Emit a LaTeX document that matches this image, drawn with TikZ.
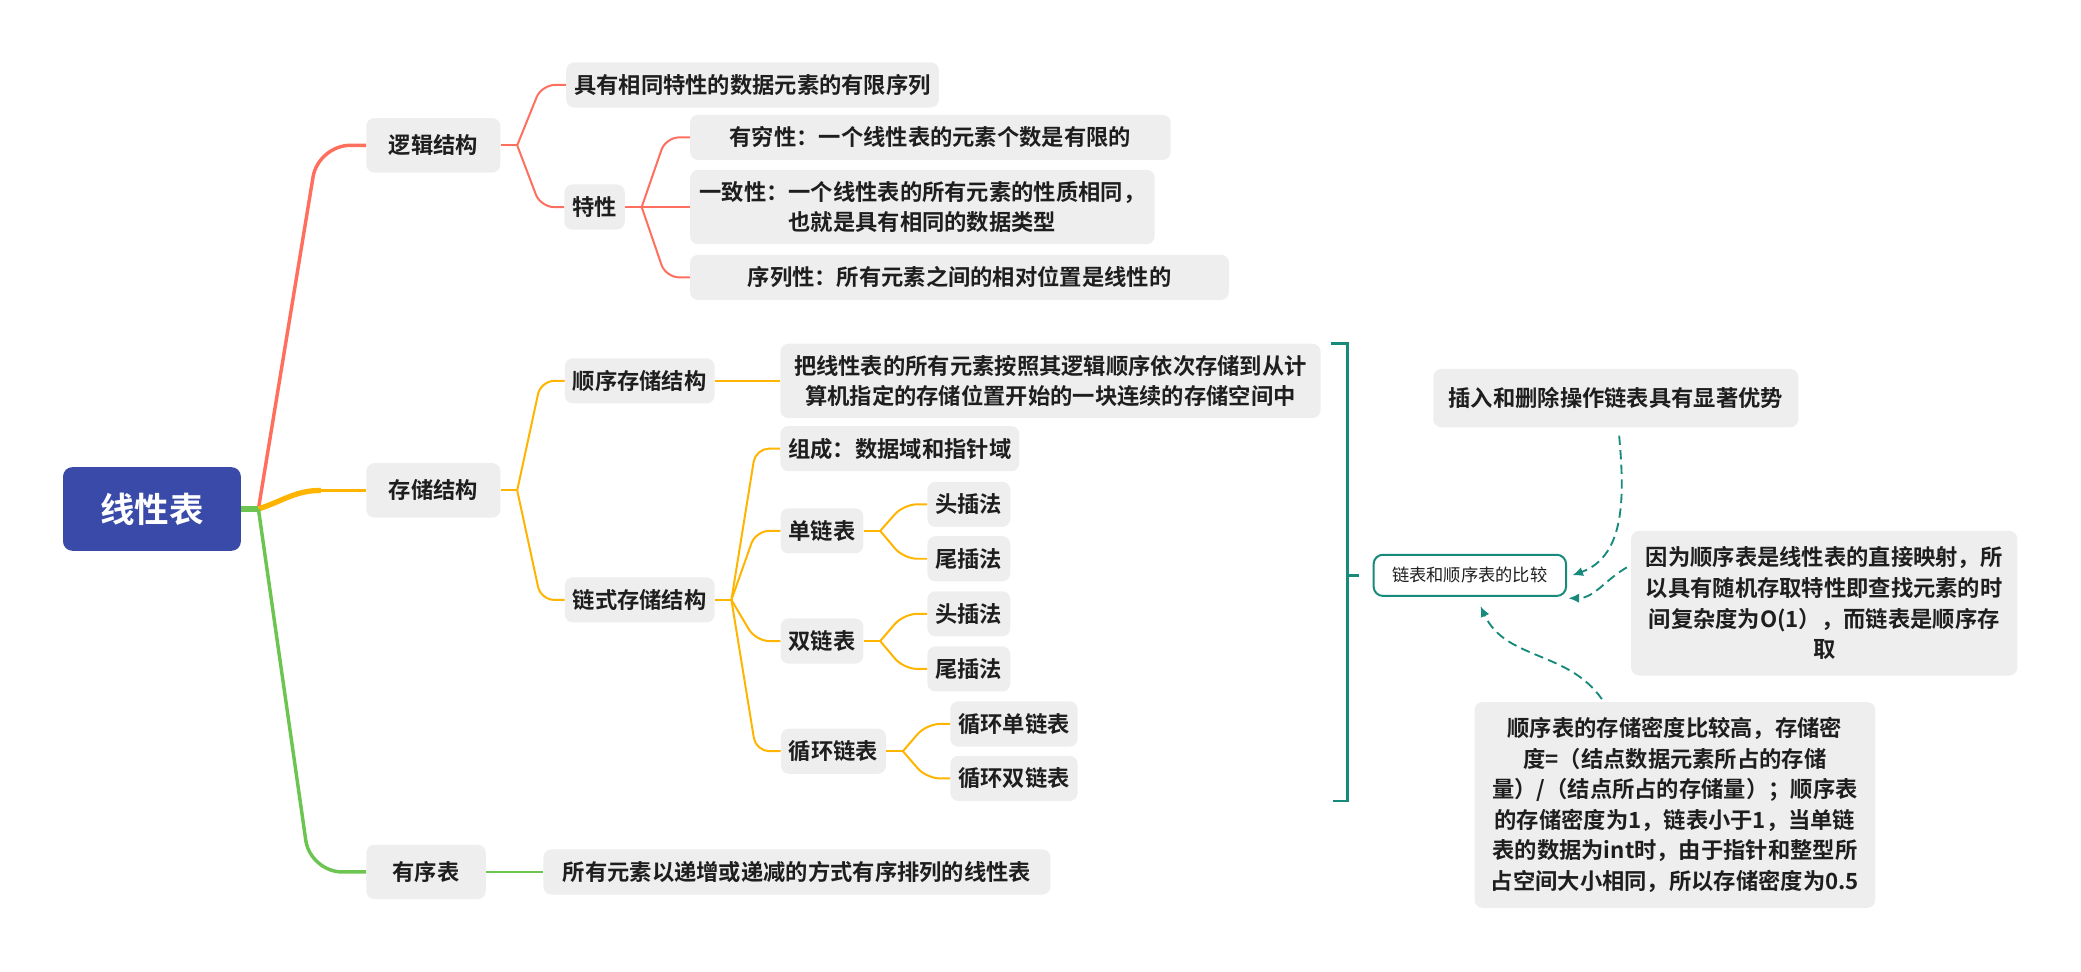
\documentclass[tikz,border=0pt]{standalone}
\usepackage{fontspec}
\setmainfont{Noto Sans CJK SC}[BoldFont={Noto Sans CJK SC Bold}]
\usetikzlibrary{calc,arrows.meta}

\definecolor{rootblue}{HTML}{3A4AA9}
\definecolor{boxgray}{HTML}{EEEEEE}
\definecolor{inkgray}{HTML}{1E1E1E}
\definecolor{redbr}{HTML}{FF6F5E}
\definecolor{yelbr}{HTML}{FFB400}
\definecolor{grnbr}{HTML}{6CC550}
\definecolor{tealbr}{HTML}{178A7B}

\tikzset{
  topic/.style={fill=boxgray, rounded corners=6pt, inner xsep=6pt, inner ysep=0pt,
    minimum height=34pt, text=inkgray, align=center,
    font=\fontsize{16.8}{23}\selectfont\bfseries},
  subject/.style={topic, minimum height=41pt},
  centre/.style={fill=rootblue, rounded corners=7pt, text=white,
    minimum width=134pt, minimum height=63pt,
    font=\fontsize{26}{30}\selectfont\bfseries},
  memo/.style={draw=tealbr, line width=1.5pt, fill=white, rounded corners=7pt,
    minimum width=145pt, minimum height=31pt, text=inkgray,
    font=\fontsize{13}{15}\selectfont},
  rline/.style={draw=redbr, line width=1.5pt, rounded corners=10pt},
  yline/.style={draw=yelbr, line width=1.5pt, rounded corners=10pt},
  gline/.style={draw=grnbr, line width=1.5pt},
  brace/.style={draw=tealbr, line width=1.8pt},
  relline/.style={draw=tealbr, line width=1.4pt, dash pattern=on 7pt off 4pt,
    -{Latex[length=8pt,width=7pt]}},
}

\newcommand{\twig}[3]{\draw[#1] (#2) let \p1=(#2), \p2=(#3.west) in
  -- ({0.5*\x1+0.5*\x2},\y2) -- (\p2);}

\begin{document}
\begin{tikzpicture}[x=1pt, y=-1pt]
  \useasboundingbox (0,0) rectangle (1568,732);

  \node[centre] (rt) at (114.5,383.5) {线性表};

  \node[subject, minimum width=101pt] (lj) at (326.5,109.5) {逻辑结构};
  \node[subject, minimum width=101pt] (cc) at (326.5,369.5) {存储结构};
  \node[subject, minimum width=90pt] (yx) at (321,657) {有序表};

  \node[topic] (jy) at (567,64) {具有相同特性的数据元素的有限序列};
  \node[topic] (tx) at (448,156) {特性};
  \node[topic, minimum width=362pt] (yq) at (701,103.5) {有穷性：一个线性表的元素个数是有限的};
  \node[topic, minimum width=350pt, minimum height=56pt] (yz) at (695,156)
    {一致性：一个线性表的所有元素的性质相同，\\也就是具有相同的数据类型};
  \node[topic, minimum width=406pt] (xl) at (723,209) {序列性：所有元素之间的相对位置是线性的};

  \node[topic] (sx) at (482,287) {顺序存储结构};
  \node[topic, minimum width=407pt, minimum height=56pt] (sxd) at (791.5,287)
    {把线性表的所有元素按照其逻辑顺序依次存储到从计\\算机指定的存储位置开始的一块连续的存储空间中};
  \node[topic] (ls) at (482,452) {链式存储结构};
  \node[topic] (zc) at (678,338) {组成：数据域和指针域};
  \node[topic] (dl) at (619.3,400) {单链表};
  \node[topic] (dt) at (730,380) {头插法};
  \node[topic] (dw) at (730,421) {尾插法};
  \node[topic] (sl) at (619.3,483) {双链表};
  \node[topic] (st) at (730,462.5) {头插法};
  \node[topic] (sw) at (730,504) {尾插法};
  \node[topic] (xh) at (628,566) {循环链表};
  \node[topic] (xd) at (764,545.5) {循环单链表};
  \node[topic] (xs) at (764,586.5) {循环双链表};

  \node[topic, minimum width=382pt] (yxd) at (600.5,657) {所有元素以递增或递减的方式有序排列的线性表};

  \node[memo] (cmp) at (1107.5,433.5) {链表和顺序表的比较};
  \node[topic, minimum width=275pt, minimum height=44pt] (cr) at (1217.5,300) {插入和删除操作链表具有显著优势};
  \node[topic, minimum width=291pt, minimum height=109pt] (yw) at (1374.5,454.5)
    {因为顺序表是线性表的直接映射，所\\以具有随机存取特性即查找元素的时\\间复杂度为O(1），而链表是顺序存\\取};
  \node[topic, minimum width=302pt, minimum height=155pt] (mi) at (1262,606.5)
    {顺序表的存储密度比较高，存储密\\度=（结点数据元素所占的存储\\量）/（结点所占的存储量）；顺序表\\的存储密度为1，链表小于1，当单链\\表的数据为int时，由于指针和整型所\\占空间大小相同，所以存储密度为0.5};

  \coordinate (hub) at ($(rt.east)+(13,0)$);
  \draw[redbr, line width=2.6pt, rounded corners=24pt] (hub) -- ($(lj.west)+(-36,0)$) -- (lj.west);
  \draw[yelbr, line width=4pt] (hub) to[out=18, in=180] ($(cc.west)+(-34,0)$);
  \draw[yelbr, line width=2pt] ($(cc.west)+(-34,0)$) -- (cc.west);
  \draw[grnbr, line width=2.6pt, rounded corners=24pt] (hub) -- ($(yx.west)+(-42,0)$) -- (yx.west);
  \draw[grnbr, line width=5pt] (rt.east) -- (hub);

  \coordinate (ljf) at ($(lj.east)+(12.5,0)$);
  \coordinate (txf) at ($(tx.east)+(12.5,0)$);
  \coordinate (ccf) at ($(cc.east)+(12.5,0)$);
  \coordinate (lsf) at ($(ls.east)+(12.5,0)$);
  \coordinate (dlf) at ($(dl.east)+(12.5,0)$);
  \coordinate (slf) at ($(sl.east)+(12.5,0)$);
  \coordinate (xhf) at ($(xh.east)+(12.5,0)$);

  \begin{scope}
    \draw[rline] (lj.east) -- (ljf);
    \draw[rline] (tx.east) -- (txf);
    \foreach \c in {jy,tx} {\twig{rline}{ljf}{\c}}
    \foreach \c in {yq,yz,xl} {\twig{rline}{txf}{\c}}

    \draw[yline] (cc.east) -- (ccf);
    \draw[yline] (ls.east) -- (lsf);
    \draw[yline] (dl.east) -- (dlf);
    \draw[yline] (sl.east) -- (slf);
    \draw[yline] (xh.east) -- (xhf);
    \foreach \c in {sx,ls} {\twig{yline}{ccf}{\c}}
    \foreach \c in {zc,dl,sl,xh} {\twig{yline}{lsf}{\c}}
    \foreach \c in {dt,dw} {\twig{yline}{dlf}{\c}}
    \foreach \c in {st,sw} {\twig{yline}{slf}{\c}}
    \foreach \c in {xd,xs} {\twig{yline}{xhf}{\c}}
    \draw[yline] (sx) -- (sxd);

    \draw[gline] (yx) -- (yxd);
  \end{scope}

  \draw[brace] ($(sxd.north east)+(8,0)$) -- ++(12,0) |- ($(xs.south east)+(192,0)$);
  \draw[brace, shorten >=10pt] ($(cmp.west)+(-20,0)$) -- (cmp.west);

  \draw[relline] ($(cr.south)+(2.5,6)$) to[out=-85, in=20] ($(cmp.east)+(4,0)$);
  \draw[relline] ($(yw.west)+(-3,-27)$) to[out=210, in=0] ($(cmp.south east)+(1,1)$);
  \draw[relline] ($(mi.north)+(-55,-2)$) to[out=125, in=-65] ($(cmp.south)+(8,7)$);
\end{tikzpicture}
\end{document}
